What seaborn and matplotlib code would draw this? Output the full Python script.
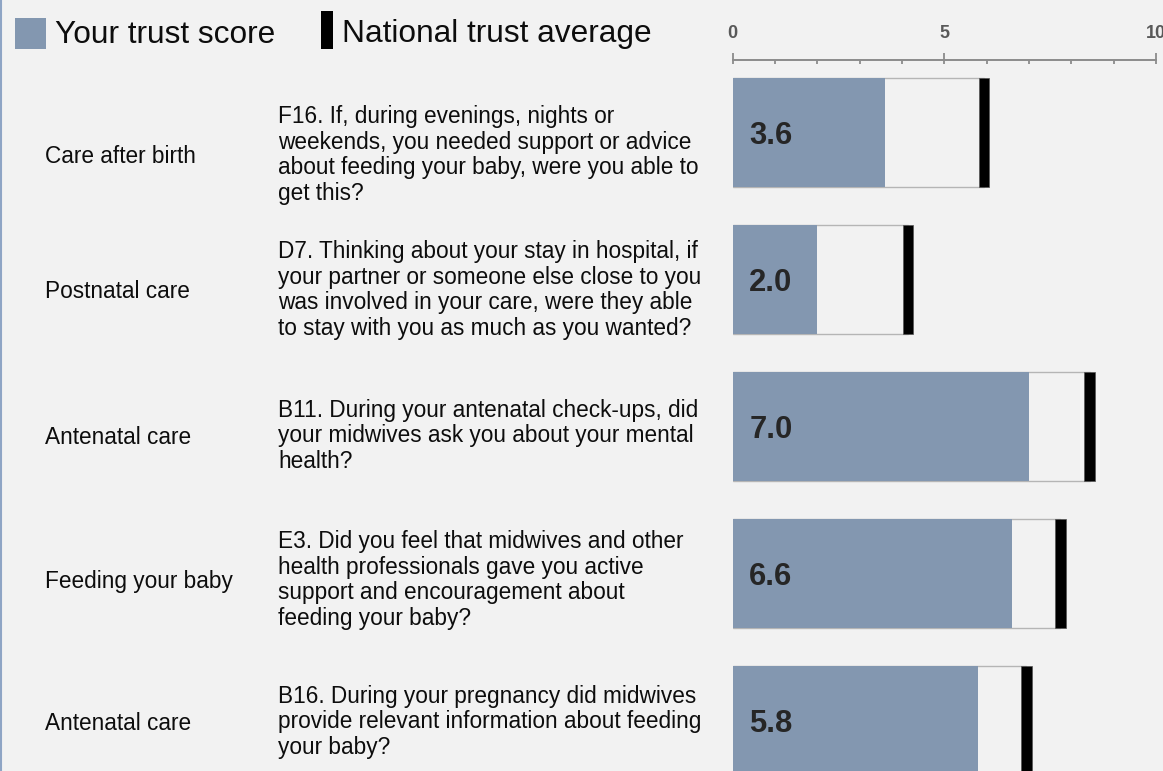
import numpy as np
import pandas as pd
import matplotlib
matplotlib.use("Agg")
import matplotlib.pyplot as plt
import seaborn as sns
from matplotlib.patches import Rectangle
from matplotlib.lines import Line2D
from matplotlib.ticker import MultipleLocator

# ---------------- data ----------------
codes = ["F16", "D7", "B11", "E3", "B16"]
sections = ["Care after birth", "Postnatal care", "Antenatal care",
            "Feeding your baby", "Antenatal care"]
questions = [
    "F16. If, during evenings, nights or\nweekends, you needed support or advice\nabout feeding your baby, were you able to\nget this?",
    "D7. Thinking about your stay in hospital, if\nyour partner or someone else close to you\nwas involved in your care, were they able\nto stay with you as much as you wanted?",
    "B11. During your antenatal check-ups, did\nyour midwives ask you about your mental\nhealth?",
    "E3. Did you feel that midwives and other\nhealth professionals gave you active\nsupport and encouragement about\nfeeding your baby?",
    "B16. During your pregnancy did midwives\nprovide relevant information about feeding\nyour baby?",
]
trust_scores = [3.6, 2.0, 7.0, 6.6, 5.8]
national_avg = [5.94, 4.14, 8.43, 7.74, 6.94]
x_ticks = [0, 5, 10]
legend_labels = ["Your trust score", "National trust average"]

# ---------------- style ----------------
BG = "#f2f2f2"
BAR = "#8397b0"
AXIS = "#8c8c8c"
W, H = 1163, 771
text_nudge_px = [22, 10, 9, 6, 1]   # layout nudges of row texts (pixels downward)

sns.set_theme(style="white")
plt.rcParams["font.family"] = ["Liberation Sans", "DejaVu Sans"]

fig = plt.figure(figsize=(W / 100, H / 100), dpi=100, facecolor=BG)
ax = fig.add_axes([732.7 / W, 0, 423.3 / W, 711 / H])
ax.set_facecolor(BG)

df = pd.DataFrame({"code": codes, "score": trust_scores, "national": national_avg})

# national-average box (outline), score bar, national marker
sns.barplot(data=df, x="national", y="code", orient="h", order=codes,
            color=BG, saturation=1, width=0.74, errorbar=None,
            edgecolor="#b5b5b5", linewidth=1.0, ax=ax)
sns.barplot(data=df, x="score", y="code", orient="h", order=codes,
            color=BAR, saturation=1, width=0.74, errorbar=None,
            linewidth=0, ax=ax)
ypos = np.arange(len(codes))
marker_w = 0.25
ax.barh(ypos, marker_w, left=np.array(national_avg) - marker_w / 2, height=0.74,
        color="black", edgecolor="#555555", linewidth=0.5)

# value labels inside bars
for i, v in enumerate(trust_scores):
    ax.annotate(f"{v:.1f}", xy=(0, i), xytext=(11.9, -8.4), textcoords="offset points",
                ha="left", va="baseline", fontsize=22.3, fontweight="bold", color="#262626")

# row texts
for i, (sec, q) in enumerate(zip(sections, questions)):
    dy = -text_nudge_px[i] * 0.72
    ax.annotate(sec, xy=(45 / W, i), xycoords=("figure fraction", "data"),
                xytext=(0, dy - 1), textcoords="offset points",
                ha="left", va="center", fontsize=16.3, color="#0d0d0d",
                annotation_clip=False)
    ax.annotate(q, xy=(278 / W, i), xycoords=("figure fraction", "data"),
                xytext=(0, dy), textcoords="offset points",
                ha="left", va="center", fontsize=16.3, color="#0d0d0d",
                linespacing=1.14, annotation_clip=False)

# axis
ax.set_xlim(0, 10)
ax.set_ylim(4.3415, -0.495)
ax.xaxis.tick_top()
ax.set_xticks(x_ticks)
ax.xaxis.set_minor_locator(MultipleLocator(1))
ax.xaxis.remove_overlapping_locs = False
ax.tick_params(axis="x", which="major", direction="out", length=5.3, width=1.3,
               color=AXIS, pad=8.0, labelsize=13, labelcolor="#595959",
               top=True, labeltop=True, bottom=False, labelbottom=False)
ax.tick_params(axis="x", which="minor", direction="in", length=2.9, width=1.3,
               color=AXIS, top=True, bottom=False)
for lbl in ax.get_xticklabels():
    lbl.set_fontweight("bold")
ax.set_yticks([])
ax.set_xlabel("")
ax.set_ylabel("")
for s in ["left", "right", "bottom"]:
    ax.spines[s].set_visible(False)
ax.spines["top"].set_color(AXIS)
ax.spines["top"].set_linewidth(1.4)

# legend (manual)
fig.add_artist(Rectangle((15 / W, 1 - 49 / H), 31 / W, 31 / H, transform=fig.transFigure,
                         facecolor=BAR, edgecolor="none"))
fig.add_artist(Rectangle((321 / W, 1 - 48.7 / H), 12 / W, 37.7 / H, transform=fig.transFigure,
                         facecolor="black", edgecolor="none"))
fig.text(55 / W, 1 - 43.3 / H, legend_labels[0], fontsize=22.8, va="baseline", color="#0d0d0d")
fig.text(342 / W, 1 - 42.3 / H, legend_labels[1], fontsize=22.8, va="baseline", color="#0d0d0d")

# left border line
fig.add_artist(Line2D([1 / W, 1 / W], [0, 1], transform=fig.transFigure,
                      color="#8fa5c5", linewidth=1.5))

fig.savefig("out.png", dpi=100, facecolor=BG)
